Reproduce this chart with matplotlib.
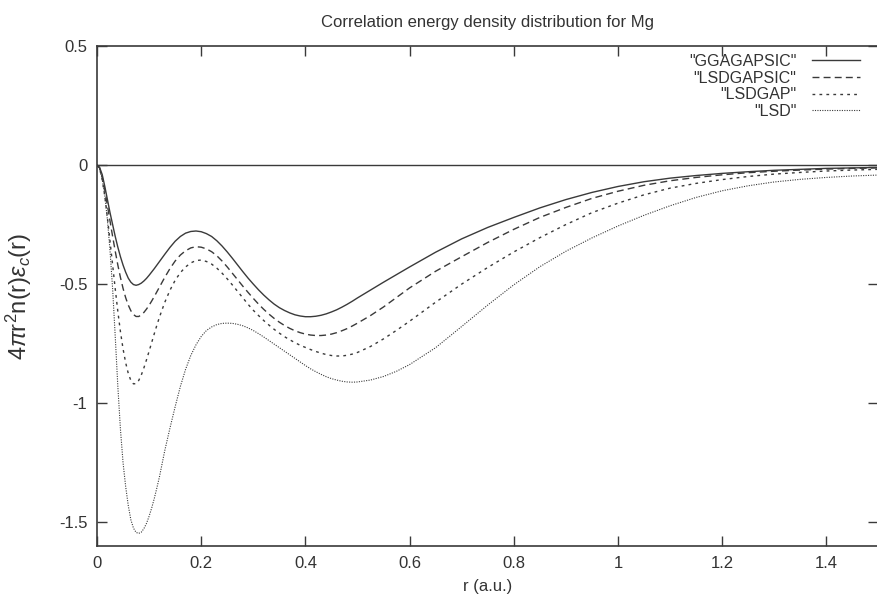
import matplotlib
matplotlib.use("Agg")
import matplotlib.pyplot as plt

plt.rcParams["font.family"] = ["Liberation Sans", "DejaVu Sans"]
plt.rcParams["axes.unicode_minus"] = False
plt.rcParams["mathtext.fontset"] = "custom"
plt.rcParams["mathtext.rm"] = "Liberation Sans"
plt.rcParams["mathtext.it"] = "Liberation Sans:italic"

# radius (a.u.) shared by all curves
r = [0.0, 0.005, 0.01, 0.015, 0.02, 0.025, 0.03, 0.035, 0.04, 0.045, 0.05,
     0.055, 0.06, 0.065, 0.07, 0.075, 0.08, 0.085, 0.09, 0.095, 0.10,
     0.105, 0.11, 0.115, 0.12,
     0.13, 0.14, 0.15, 0.16, 0.17, 0.18, 0.19, 0.20, 0.21, 0.22,
     0.23, 0.24, 0.25, 0.26, 0.27, 0.28, 0.29, 0.30, 0.31, 0.32,
     0.33, 0.34, 0.35, 0.36, 0.37, 0.38, 0.39, 0.40, 0.41, 0.42,
     0.43, 0.44, 0.45, 0.46, 0.47, 0.48, 0.49, 0.50,
     0.525, 0.55, 0.575, 0.60, 0.65, 0.70, 0.75, 0.80, 0.85, 0.90, 0.95, 1.00,
     1.05, 1.10, 1.15, 1.20, 1.25, 1.30, 1.35, 1.40, 1.45, 1.50]

gga_gapsic = [0, -0.01, -0.04, -0.09, -0.145, -0.20, -0.25, -0.30, -0.345, -0.385, -0.42,
              -0.45, -0.475, -0.492, -0.502, -0.505, -0.502, -0.496, -0.487, -0.476, -0.463,
              -0.449, -0.435, -0.42, -0.405,
              -0.375, -0.346, -0.32, -0.30, -0.286, -0.279, -0.277, -0.280, -0.288, -0.30,
              -0.318, -0.34, -0.365, -0.392, -0.42, -0.448, -0.475, -0.50, -0.524, -0.546,
              -0.566, -0.584, -0.599, -0.611, -0.621, -0.629, -0.634, -0.637, -0.637, -0.635,
              -0.631, -0.625, -0.617, -0.608, -0.597, -0.585, -0.572, -0.558,
              -0.525, -0.492, -0.46, -0.428, -0.366, -0.31, -0.262, -0.22, -0.18, -0.145,
              -0.115, -0.09,
              -0.07, -0.055, -0.044, -0.035, -0.028, -0.022, -0.018, -0.014, -0.012, -0.01]

lsd_gapsic = [0, -0.012, -0.05, -0.105, -0.17, -0.235, -0.30, -0.362, -0.42, -0.472, -0.518,
              -0.557, -0.588, -0.612, -0.628, -0.636, -0.636, -0.63, -0.619, -0.605, -0.589,
              -0.571, -0.552, -0.532, -0.512,
              -0.472, -0.435, -0.403, -0.378, -0.36, -0.348, -0.343, -0.345, -0.352, -0.364,
              -0.381, -0.403, -0.428, -0.455, -0.482, -0.509, -0.535, -0.56, -0.584, -0.606,
              -0.626, -0.644, -0.66, -0.674, -0.686, -0.696, -0.704, -0.71, -0.714, -0.716,
              -0.716, -0.714, -0.71, -0.704, -0.696, -0.687, -0.676, -0.664,
              -0.632, -0.596, -0.556, -0.516, -0.446, -0.385, -0.325, -0.27, -0.22, -0.178,
              -0.14, -0.11,
              -0.085, -0.066, -0.052, -0.041, -0.032, -0.026, -0.021, -0.017, -0.014, -0.012]

lsd_gap = [0, -0.015, -0.06, -0.13, -0.22, -0.32, -0.42, -0.52, -0.615, -0.70, -0.772,
           -0.83, -0.875, -0.905, -0.919, -0.918, -0.905, -0.882, -0.852, -0.818, -0.782,
           -0.745, -0.708, -0.672, -0.638,
           -0.577, -0.526, -0.484, -0.452, -0.428, -0.411, -0.401, -0.399, -0.405, -0.416,
           -0.433, -0.454, -0.478, -0.504, -0.531, -0.558, -0.585, -0.61, -0.632, -0.653,
           -0.672, -0.69, -0.706, -0.721, -0.734, -0.746, -0.757, -0.766, -0.775, -0.783,
           -0.79, -0.796, -0.80, -0.802, -0.802, -0.799, -0.794, -0.787,
           -0.762, -0.73, -0.694, -0.656, -0.576, -0.50, -0.43, -0.365, -0.305, -0.25,
           -0.20, -0.16,
           -0.125, -0.097, -0.077, -0.061, -0.048, -0.038, -0.031, -0.025, -0.021, -0.018]

lsd = [0, -0.015, -0.06, -0.13, -0.23, -0.36, -0.52, -0.72, -0.93, -1.11, -1.25,
       -1.35, -1.43, -1.49, -1.525, -1.543, -1.547, -1.542, -1.527, -1.505, -1.475,
       -1.44, -1.40, -1.355, -1.308,
       -1.20, -1.105, -1.015, -0.93, -0.858, -0.80, -0.755, -0.72, -0.695, -0.68,
       -0.67, -0.665, -0.664, -0.665, -0.669, -0.675, -0.684, -0.695, -0.708, -0.722,
       -0.737, -0.752, -0.767, -0.782, -0.797, -0.812, -0.827, -0.842, -0.856, -0.868,
       -0.879, -0.889, -0.897, -0.903, -0.908, -0.911, -0.912, -0.911,
       -0.903, -0.888, -0.866, -0.838, -0.767, -0.678, -0.588, -0.503, -0.427, -0.362,
       -0.306, -0.256,
       -0.211, -0.171, -0.136, -0.108, -0.087, -0.071, -0.06, -0.052, -0.046, -0.042]

labels = ['"GGAGAPSIC"', '"LSDGAPSIC"', '"LSDGAP"', '"LSD"']
xticks = [0, 0.2, 0.4, 0.6, 0.8, 1.0, 1.2, 1.4]
xtick_labels = ["0", "0.2", "0.4", "0.6", "0.8", "1", "1.2", "1.4"]
yticks = [0.5, 0, -0.5, -1, -1.5]
ytick_labels = ["0.5", "0", "-0.5", "-1", "-1.5"]

ink = "#3a3a3a"
txt = "#333333"

fig = plt.figure(figsize=(8.78, 5.95), dpi=100)
ax = fig.add_axes([97 / 878, 49 / 595, 781.5 / 878, 500 / 595])

ax.axhline(0, color=ink, lw=1.0)
ax.plot(r, gga_gapsic, color=ink, lw=1.0, ls="-", label=labels[0])
ax.plot(r, lsd_gapsic, color=ink, lw=1.0, ls=(0, (5, 3)), label=labels[1])
ax.plot(r, lsd_gap, color=ink, lw=1.0, ls=(0, (2, 3)), label=labels[2])
ax.plot(r, lsd, color=ink, lw=0.8, ls=(0, (1, 1.2)), label=labels[3])

ax.set_xlim(0, 1.5)
ax.set_ylim(-1.6, 0.5)
ax.set_xticks(xticks)
ax.set_xticklabels(xtick_labels)
ax.set_yticks(yticks)
ax.set_yticklabels(ytick_labels)
ax.tick_params(direction="in", top=True, right=True, length=7, width=1,
               color=ink, labelcolor=txt, labelsize=12, pad=7)
for s in ax.spines.values():
    s.set_color(ink)
    s.set_linewidth(1.2)

ax.set_title("Correlation energy density distribution for Mg",
             fontsize=12, color=txt, pad=14)
ax.set_xlabel("r (a.u.)", fontsize=12, color=txt, labelpad=6)
ax.set_ylabel(r"4$\pi$r$^2$n(r)$\epsilon_c$(r)", fontsize=17,
              color=txt, labelpad=18)

leg = ax.legend(loc="upper right", bbox_to_anchor=(0.987, 1.0),
                markerfirst=False, frameon=False, fontsize=11.5,
                handlelength=3.0, handletextpad=1.0, labelspacing=0.1,
                borderaxespad=0.1)
for t in leg.get_texts():
    t.set_color(txt)

fig.savefig("out.png", dpi=100)
plt.close(fig)
